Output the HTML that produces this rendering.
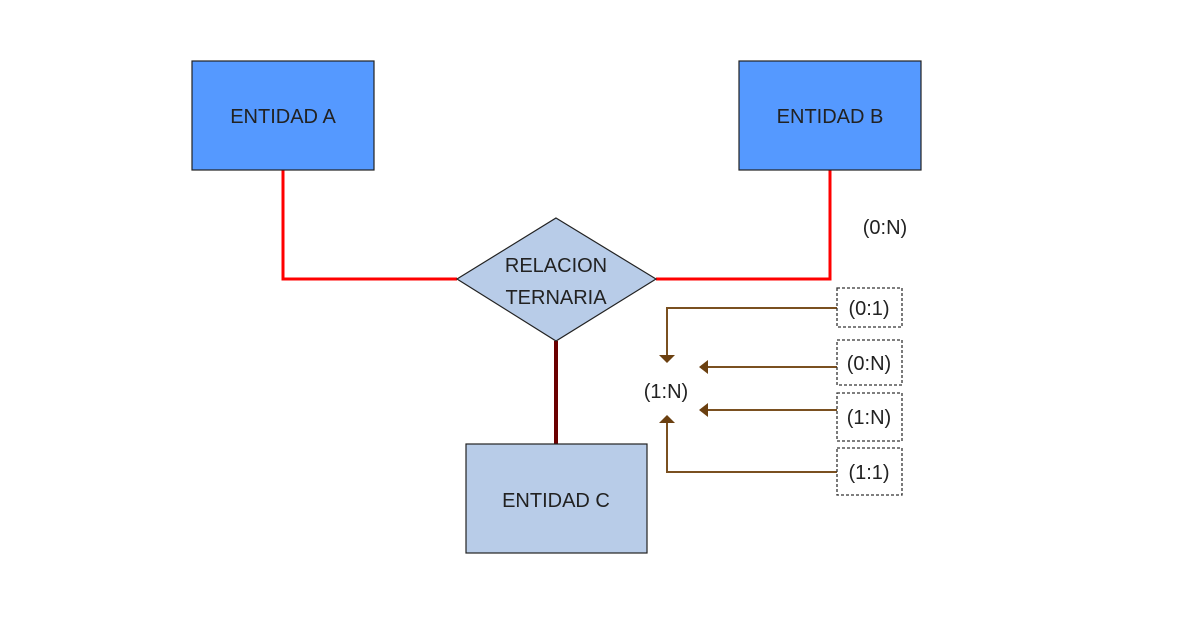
<!DOCTYPE html>
<html><head><style>
body{margin:0;background:#fff;}
svg text{font-family:"Liberation Sans",sans-serif;font-size:20px;fill:#222;}
</style></head><body>
<svg width="1177" height="618" viewBox="0 0 1177 618" xmlns="http://www.w3.org/2000/svg">
<polyline points="283,170 283,279 457,279" fill="none" stroke="#f00" stroke-width="3"/>
<polyline points="656,279 830,279 830,170" fill="none" stroke="#f00" stroke-width="3"/>
<line x1="556" y1="341" x2="556" y2="444" stroke="#6b0000" stroke-width="4"/>
<rect x="192" y="61" width="182" height="109" fill="#5599ff" stroke="#222" stroke-width="1.2"/>
<text x="283" y="123" text-anchor="middle">ENTIDAD A</text>
<rect x="739" y="61" width="182" height="109" fill="#5599ff" stroke="#222" stroke-width="1.2"/>
<text x="830" y="123" text-anchor="middle">ENTIDAD B</text>
<rect x="466" y="444" width="181" height="109" fill="#b8cce8" stroke="#222" stroke-width="1.2"/>
<text x="556" y="507" text-anchor="middle">ENTIDAD C</text>
<polygon points="556,218 656,279 556,341 457,279" fill="#b8cce8" stroke="#222" stroke-width="1.2"/>
<text x="556" y="272" text-anchor="middle">RELACION</text>
<text x="556" y="304" text-anchor="middle">TERNARIA</text>
<text x="885" y="234" text-anchor="middle">(0:N)</text>
<text x="666" y="398" text-anchor="middle">(1:N)</text>
<g fill="none" stroke="#7a5020" stroke-width="2">
<polyline points="837,308 667,308 667,358"/>
<line x1="837" y1="367" x2="706" y2="367"/>
<line x1="837" y1="410" x2="706" y2="410"/>
<polyline points="837,472 667,472 667,421"/>
</g>
<g fill="#6b4010">
<polygon points="659,355 675,355 667,363"/>
<polygon points="699,367 708,360 708,374"/>
<polygon points="699,410 708,403 708,417"/>
<polygon points="659,423 675,423 667,415"/>
</g>
<g fill="#fff" stroke="#333" stroke-width="1.3" stroke-dasharray="3,2">
<rect x="837" y="288" width="65" height="39"/>
<rect x="837" y="340" width="65" height="45"/>
<rect x="837" y="393" width="65" height="48"/>
<rect x="837" y="448" width="65" height="47"/>
</g>
<text x="869" y="315" text-anchor="middle">(0:1)</text>
<text x="869" y="370" text-anchor="middle">(0:N)</text>
<text x="869" y="424" text-anchor="middle">(1:N)</text>
<text x="869" y="479" text-anchor="middle">(1:1)</text>
</svg>
</body></html>
